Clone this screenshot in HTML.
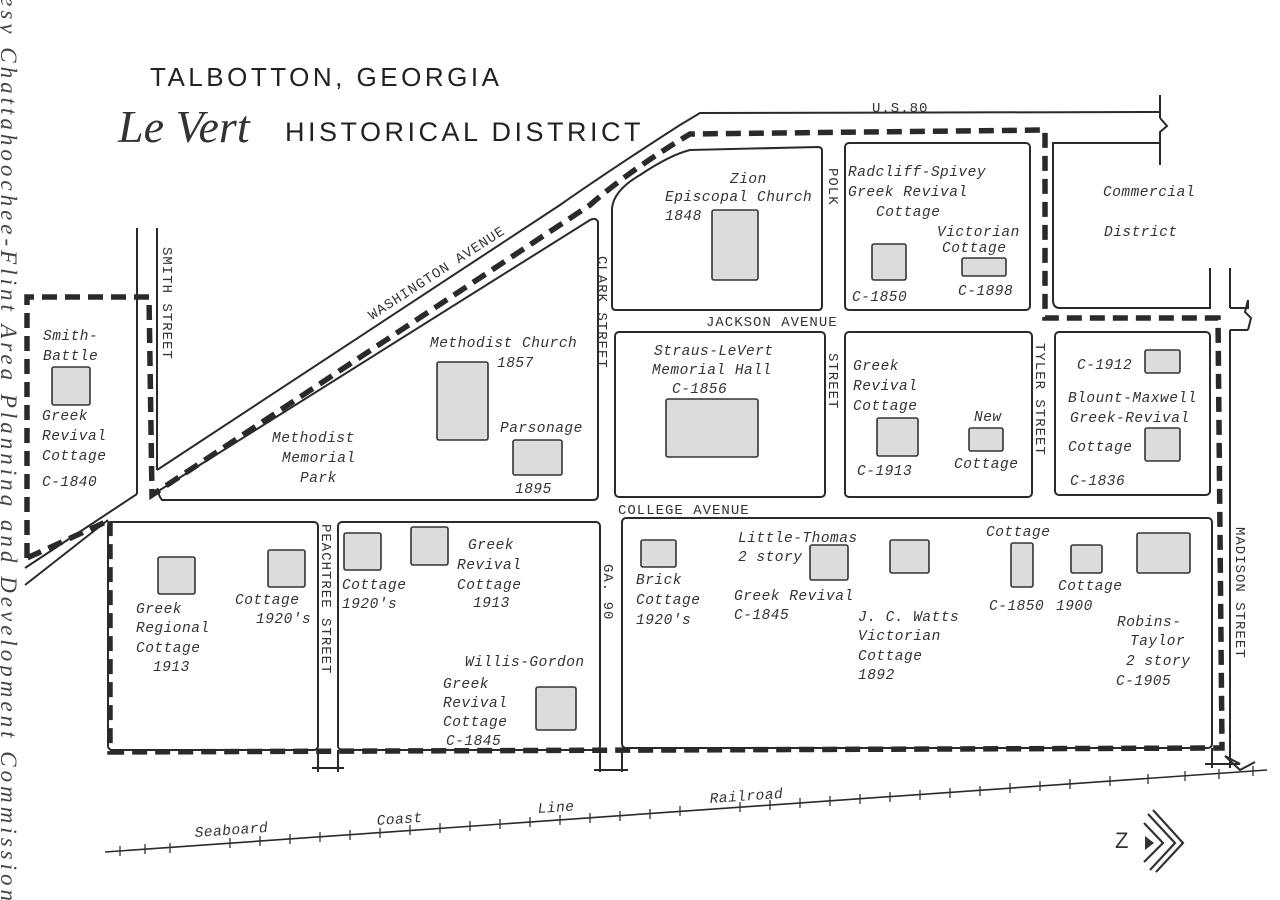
<!DOCTYPE html>
<html><head><meta charset="utf-8"><style>
html,body{margin:0;padding:0;background:#fff;overflow:hidden;width:1280px;height:900px}
svg{display:block}
.t{font-family:"Liberation Mono",monospace;font-style:italic;font-size:14.5px;fill:#333;letter-spacing:0.5px}
.s{font-family:"Liberation Mono",monospace;font-size:14px;fill:#333;letter-spacing:1px}
.b{fill:#dcdcdc;stroke:#333;stroke-width:1.6}
.l{fill:none;stroke:#2a2a2a;stroke-width:2}
</style></head><body>
<svg width="1280" height="900" viewBox="0 0 1280 900" xmlns="http://www.w3.org/2000/svg">
<rect width="1280" height="900" fill="#fff"/>
<text x="1" y="905" text-anchor="end" transform="rotate(90 1 905)" font-family="Liberation Serif,serif" font-style="italic" font-size="23" fill="#444" letter-spacing="4">Courtesy Chattahoochee-Flint Area Planning and Development Commission</text>
<text x="150" y="86" font-family="Liberation Sans,sans-serif" font-size="26" fill="#222" letter-spacing="3.5">TALBOTTON, GEORGIA</text>
<text x="118" y="142" font-family="Liberation Serif,serif" font-style="italic" font-size="46" fill="#333">Le Vert</text>
<text x="285" y="141" font-family="Liberation Sans,sans-serif" font-size="27" fill="#222" letter-spacing="3.5">HISTORICAL  DISTRICT</text>

<g class="l">
<line x1="137" y1="228" x2="137" y2="494"/>
<line x1="157" y1="228" x2="157" y2="470"/>
<path d="M25,568 L137,494"/>
<path d="M157,470 L560,205 Q610,170 680,125 L700,113 L1160,112"/>
<line x1="1160" y1="95" x2="1160" y2="118"/><path d="M1160,118 L1167,126 L1160,132 L1160,165"/>
<path d="M25,585 L108,520"/>
<path d="M162,500 L593,500 Q598,500 598,495 L598,222 Q596,217 590,220 L160,490 Q157,494 162,500Z"/>
<path d="M612,300 L612,208 Q614,190 640,175 Q670,155 690,150 L818,147 Q822,147 822,151 L822,306 Q822,310 818,310 L616,310 Q612,310 612,306Z"/>
<rect x="845" y="143" width="185" height="167" rx="4"/>
<path d="M1053,300 L1053,143 L1160,143"/><path d="M1053,300 Q1053,308 1060,308 L1210,308 L1210,268"/>
<line x1="1230" y1="268" x2="1230" y2="308"/><path d="M1230,308 L1248,308 L1248,300 L1245,312 L1251,318 L1248,330"/>
<line x1="1230" y1="330" x2="1248" y2="330"/>
<rect x="615" y="332" width="210" height="165" rx="4"/>
<rect x="845" y="332" width="187" height="165" rx="4"/>
<rect x="1055" y="332" width="155" height="163" rx="4"/>
<line x1="1230" y1="330" x2="1230" y2="768"/>
<rect x="108" y="522" width="210" height="228" rx="4"/>
<rect x="338" y="522" width="262" height="228" rx="4"/>
<rect x="622" y="518" width="590" height="230" rx="4"/>
<path d="M318,750 L318,772 M338,750 L338,772 M600,750 L600,772 M622,750 L622,772 M1212,748 L1212,768"/>
<path d="M312,768 L344,768 M594,770 L628,770 M1205,764 L1240,764 L1225,756 L1240,770 L1255,762"/>
<line x1="105" y1="852" x2="1267" y2="770" stroke-width="1.6"/>
</g>

<path d="M27,558 L27,297 L149,297 L152,495 L590,205 Q630,170 690,134 L1045,130 L1045,318 L1218,318 L1222,748 L110,752 L110,520 Z" fill="none" stroke="#2a2a2a" stroke-width="5.5" stroke-dasharray="15,8"/>

<rect class="b" x="52" y="367" width="38" height="38" rx="2"/>
<rect class="b" x="437" y="362" width="51" height="78" rx="2"/>
<rect class="b" x="513" y="440" width="49" height="35" rx="2"/>
<rect class="b" x="712" y="210" width="46" height="70" rx="2"/>
<rect class="b" x="872" y="244" width="34" height="36" rx="2"/>
<rect class="b" x="962" y="258" width="44" height="18" rx="2"/>
<rect class="b" x="666" y="399" width="92" height="58" rx="2"/>
<rect class="b" x="877" y="418" width="41" height="38" rx="2"/>
<rect class="b" x="969" y="428" width="34" height="23" rx="2"/>
<rect class="b" x="1145" y="350" width="35" height="23" rx="2"/>
<rect class="b" x="1145" y="428" width="35" height="33" rx="2"/>
<rect class="b" x="158" y="557" width="37" height="37" rx="2"/>
<rect class="b" x="268" y="550" width="37" height="37" rx="2"/>
<rect class="b" x="344" y="533" width="37" height="37" rx="2"/>
<rect class="b" x="411" y="527" width="37" height="38" rx="2"/>
<rect class="b" x="536" y="687" width="40" height="43" rx="2"/>
<rect class="b" x="641" y="540" width="35" height="27" rx="2"/>
<rect class="b" x="810" y="545" width="38" height="35" rx="2"/>
<rect class="b" x="890" y="540" width="39" height="33" rx="2"/>
<rect class="b" x="1011" y="543" width="22" height="44" rx="2"/>
<rect class="b" x="1071" y="545" width="31" height="28" rx="2"/>
<rect class="b" x="1137" y="533" width="53" height="40" rx="2"/>

<text class="s" x="872" y="112" letter-spacing="2">U.S.80</text>
<text class="s" x="372" y="320" transform="rotate(-33 372 320)" letter-spacing="2">WASHINGTON AVENUE</text>
<text class="s" x="163" y="247" transform="rotate(90 163 247)">SMITH STREET</text>
<text class="s" x="598" y="256" transform="rotate(90 598 256)" font-size="15">CLARK STREET</text>
<text class="s" x="829" y="168" transform="rotate(90 829 168)">POLK</text>
<text class="s" x="829" y="353" transform="rotate(90 829 353)">STREET</text>
<text class="s" x="706" y="326" letter-spacing="1.5">JACKSON AVENUE</text>
<text class="s" x="618" y="514" letter-spacing="1.5">COLLEGE AVENUE</text>
<text class="s" x="1036" y="343" transform="rotate(90 1036 343)" letter-spacing="2">TYLER STREET</text>
<text class="s" x="1236" y="527" transform="rotate(90 1236 527)" letter-spacing="1.5">MADISON STREET</text>
<text class="s" x="322" y="524" transform="rotate(90 322 524)" letter-spacing="1.5">PEACHTREE STREET</text>
<text class="s" x="604" y="564" transform="rotate(90 604 564)">GA. 90</text>
<text class="t" x="195" y="837" transform="rotate(-4 195 837)" letter-spacing="2">Seaboard</text>
<text class="t" x="377" y="825" transform="rotate(-4 377 825)" letter-spacing="2">Coast</text>
<text class="t" x="538" y="813" transform="rotate(-4 538 813)" letter-spacing="2">Line</text>
<text class="t" x="710" y="803" transform="rotate(-4 710 803)" letter-spacing="2">Railroad</text>

<text class="t" x="43" y="340">Smith-</text>
<text class="t" x="43" y="360">Battle</text>
<text class="t" x="42" y="420">Greek</text>
<text class="t" x="42" y="440">Revival</text>
<text class="t" x="42" y="460">Cottage</text>
<text class="t" x="42" y="486">C-1840</text>
<text class="t" x="430" y="347">Methodist Church</text>
<text class="t" x="497" y="367">1857</text>
<text class="t" x="500" y="432">Parsonage</text>
<text class="t" x="515" y="493">1895</text>
<text class="t" x="272" y="442">Methodist</text>
<text class="t" x="282" y="462">Memorial</text>
<text class="t" x="300" y="482">Park</text>
<text class="t" x="730" y="183">Zion</text>
<text class="t" x="665" y="201">Episcopal Church</text>
<text class="t" x="665" y="220">1848</text>
<text class="t" x="848" y="176">Radcliff-Spivey</text>
<text class="t" x="848" y="196">Greek Revival</text>
<text class="t" x="876" y="216">Cottage</text>
<text class="t" x="937" y="236">Victorian</text>
<text class="t" x="942" y="252">Cottage</text>
<text class="t" x="852" y="301">C-1850</text>
<text class="t" x="958" y="295">C-1898</text>
<text class="t" x="1103" y="196">Commercial</text>
<text class="t" x="1104" y="236">District</text>
<text class="t" x="654" y="355">Straus-LeVert</text>
<text class="t" x="652" y="374">Memorial Hall</text>
<text class="t" x="672" y="393">C-1856</text>
<text class="t" x="853" y="370" letter-spacing="2">Greek</text>
<text class="t" x="853" y="390" letter-spacing="2">Revival</text>
<text class="t" x="853" y="410" letter-spacing="2">Cottage</text>
<text class="t" x="857" y="475" letter-spacing="2">C-1913</text>
<text class="t" x="974" y="421">New</text>
<text class="t" x="954" y="468">Cottage</text>
<text class="t" x="1077" y="369">C-1912</text>
<text class="t" x="1068" y="402">Blount-Maxwell</text>
<text class="t" x="1070" y="422">Greek-Revival</text>
<text class="t" x="1068" y="451">Cottage</text>
<text class="t" x="1070" y="485">C-1836</text>
<text class="t" x="136" y="613" letter-spacing="2">Greek</text>
<text class="t" x="136" y="632" letter-spacing="2">Regional</text>
<text class="t" x="136" y="652" letter-spacing="2">Cottage</text>
<text class="t" x="153" y="671">1913</text>
<text class="t" x="235" y="604">Cottage</text>
<text class="t" x="256" y="623">1920's</text>
<text class="t" x="342" y="589" letter-spacing="1.5">Cottage</text>
<text class="t" x="342" y="608" letter-spacing="1.5">1920's</text>
<text class="t" x="468" y="549" letter-spacing="2">Greek</text>
<text class="t" x="457" y="569" letter-spacing="2">Revival</text>
<text class="t" x="457" y="589" letter-spacing="2">Cottage</text>
<text class="t" x="473" y="607">1913</text>
<text class="t" x="465" y="666">Willis-Gordon</text>
<text class="t" x="443" y="688" letter-spacing="2">Greek</text>
<text class="t" x="443" y="707" letter-spacing="2">Revival</text>
<text class="t" x="443" y="726" letter-spacing="2">Cottage</text>
<text class="t" x="446" y="745">C-1845</text>
<text class="t" x="636" y="584">Brick</text>
<text class="t" x="636" y="604">Cottage</text>
<text class="t" x="636" y="624">1920's</text>
<text class="t" x="738" y="542">Little-Thomas</text>
<text class="t" x="738" y="561">2 story</text>
<text class="t" x="734" y="600">Greek Revival</text>
<text class="t" x="734" y="619">C-1845</text>
<text class="t" x="858" y="621" letter-spacing="1.5">J. C. Watts</text>
<text class="t" x="858" y="640" letter-spacing="1.5">Victorian</text>
<text class="t" x="858" y="660" letter-spacing="1.5">Cottage</text>
<text class="t" x="858" y="679">1892</text>
<text class="t" x="986" y="536">Cottage</text>
<text class="t" x="989" y="610">C-1850</text>
<text class="t" x="1056" y="610">1900</text>
<text class="t" x="1058" y="590">Cottage</text>
<text class="t" x="1117" y="626" letter-spacing="1.5">Robins-</text>
<text class="t" x="1130" y="645" letter-spacing="1.5">Taylor</text>
<text class="t" x="1126" y="665" letter-spacing="1.5">2 story</text>
<text class="t" x="1116" y="685" letter-spacing="1.5">C-1905</text>

<text x="1115" y="848" font-family="Liberation Sans,sans-serif" font-size="22" fill="#333">Z</text>
<path d="M1145,836 L1154,843 L1145,850Z" fill="#333"/>
<path d="M1144,823 L1163,843 L1144,862 M1148,814 L1175,843 L1150,870 M1153,810 L1183,843 L1156,872" fill="none" stroke="#333" stroke-width="2.2"/>

<g stroke="#333" stroke-width="1.3">
<path d="M120,846 l0,10 M145,844 l0,10 M170,843 l0,10 M230,838 l0,10 M260,836 l0,10 M290,834 l0,10 M320,832 l0,10 M350,830 l0,10 M380,828 l0,10 M410,825 l0,10 M440,823 l0,10 M470,821 l0,10 M500,819 l0,10 M530,817 l0,10 M560,815 l0,10 M590,813 l0,10 M620,811 l0,10 M650,809 l0,10 M680,806 l0,10 M740,802 l0,10 M770,800 l0,10 M800,798 l0,10 M830,796 l0,10 M860,794 l0,10 M890,792 l0,10 M920,790 l0,10 M950,788 l0,10 M980,786 l0,10 M1010,783 l0,10 M1040,781 l0,10 M1070,779 l0,10 M1110,776 l0,10 M1148,774 l0,10 M1185,771 l0,10 M1219,769 l0,10 M1253,766 l0,10"/>
</g>
</svg>
</body></html>
